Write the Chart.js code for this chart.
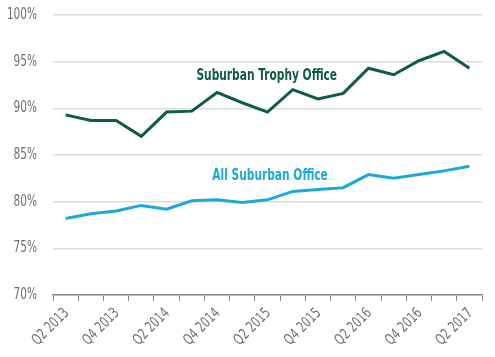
<!DOCTYPE html>
<html>
<head>
<meta charset="utf-8">
<script src="https://cdn.jsdelivr.net/npm/chart.js@4/dist/chart.umd.min.js"></script>
<style>
html,body{margin:0;padding:0;background:#fff;}
#wrap{width:495px;height:357px;}
</style>
</head>
<body>
<div id="wrap"><canvas id="c" width="495" height="357"></canvas></div>
<script>
const categories = ["Q2 2013","Q3 2013","Q4 2013","Q1 2014","Q2 2014","Q3 2014","Q4 2014","Q1 2015","Q2 2015","Q3 2015","Q4 2015","Q1 2016","Q2 2016","Q3 2016","Q4 2016","Q1 2017","Q2 2017"];
const trophyOffice = [89.3,88.7,88.7,87.0,89.6,89.7,91.7,90.6,89.6,92.0,91.0,91.6,94.3,93.6,95.1,96.1,94.3];
const allSuburbanOffice = [78.2,78.7,79.0,79.6,79.2,80.1,80.2,79.9,80.2,81.1,81.3,81.5,82.9,82.5,82.9,83.3,83.8];
const seriesNames = ["Suburban Trophy Office","All Suburban Office"];
const yTicks = [70,75,80,85,90,95,100];

const GREEN = "#0d5e40";
const BLUE = "#1ba9d8";
const TICK = "#707070";
const FONT = "'DejaVu Sans Condensed','DejaVu Sans',sans-serif";

const labelPlugin = {
  id: "seriesLabels",
  afterDraw(chart) {
    const {ctx, scales:{x, y}} = chart;
    ctx.save();
    // y tick labels (condensed)
    ctx.font = "15px " + FONT;
    ctx.fillStyle = TICK;
    ctx.textAlign = "right";
    ctx.textBaseline = "middle";
    y.ticks.forEach(t => {
      const py = y.getPixelForValue(t.value);
      ctx.save();
      ctx.translate(37, py);
      ctx.scale(0.78, 1);
      ctx.fillText(t.value + "%", 0, 0);
      ctx.restore();
    });
    // x tick labels (rotated, condensed)
    ctx.font = "15px " + FONT;
    categories.forEach((c, i) => {
      if (i % 2 !== 0) return;
      const px = x.getPixelForValue(i);
      ctx.save();
      ctx.translate(px + 1, y.bottom + 16);
      ctx.rotate(-Math.PI / 4);
      ctx.scale(0.78, 1);
      ctx.fillText(c, 0, 0);
      ctx.restore();
    });
    // series labels
    const items = [
      {text: seriesNames[0], xi: 7.97, yv: 93.5, color: GREEN},
      {text: seriesNames[1], xi: 8.1, yv: 82.8, color: BLUE}
    ];
    ctx.font = "bold 16px " + FONT;
    ctx.textAlign = "center";
    items.forEach(it => {
      const px = x.getPixelForValue(it.xi), py = y.getPixelForValue(it.yv);
      ctx.save();
      ctx.translate(px, py);
      ctx.scale(0.74, 1);
      ctx.fillStyle = it.color;
      ctx.fillText(it.text, 0, 0);
      ctx.restore();
    });
    ctx.restore();
  }
};

new Chart(document.getElementById("c"), {
  type: "line",
  data: {
    labels: categories,
    datasets: [
      {label: seriesNames[0], data: trophyOffice, borderColor: GREEN, borderWidth: 3, pointRadius: 0, tension: 0, fill: false},
      {label: seriesNames[1], data: allSuburbanOffice, borderColor: BLUE, borderWidth: 3, pointRadius: 0, tension: 0, fill: false}
    ]
  },
  options: {
    responsive: false,
    animation: false,
    devicePixelRatio: 1,
    layout: {padding: {top: 15, right: 13, left: 0, bottom: 0}},
    plugins: {legend: {display: false}, tooltip: {enabled: false}},
    scales: {
      x: {
        offset: true,
        grid: {offset: true, drawOnChartArea: false, drawTicks: true, tickLength: 6, color: "#8a8a8a", lineWidth: 1},
        border: {display: true, color: "#8a8a8a", width: 1.5},
        ticks: {display: false, autoSkip: false},
        afterFit: function(s) { s.height = 62; }
      },
      y: {
        min: yTicks[0], max: yTicks[yTicks.length-1],
        afterBuildTicks: function(s) { s.ticks = yTicks.map(v => ({value: v})); },
        grid: {color: "#dcdcdc", lineWidth: 1.5, drawTicks: false},
        border: {display: false},
        ticks: {display: false},
        afterFit: function(s) { s.width = 53; }
      }
    }
  },
  plugins: [labelPlugin]
});
</script>
</body>
</html>
